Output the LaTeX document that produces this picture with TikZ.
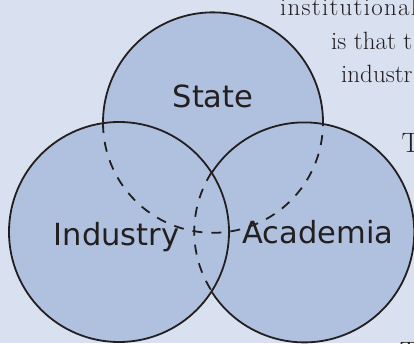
\documentclass[tikz,border=0pt]{standalone}
\usepackage{fontspec}
\newfontfamily\labelfont{DejaVu Sans}
\newfontfamily\widebody[LetterSpace=5]{Latin Modern Roman}
\definecolor{bg}{HTML}{D9E0EF}
\definecolor{disc}{HTML}{AFC1DE}
\definecolor{ink}{HTML}{231F20}
\begin{document}
\begin{tikzpicture}[x=1pt,y=1pt,
  disk/.style={circle,fill=disc,draw=none,inner sep=0pt,outer sep=0pt,minimum size=220pt},
  solidline/.style={draw=ink,line width=1.8pt},
  hiddenline/.style={draw=ink,line width=1.8pt,dash pattern=on 10pt off 9pt},
  lbl/.style={font=\labelfont\fontsize{30.5}{30.5}\selectfont,text=ink,inner sep=0pt,anchor=base},
  body/.style={font=\fontsize{25}{25}\selectfont,text=ink,inner sep=0pt,anchor=base west}]
\useasboundingbox (0,0) rectangle (414,343);
\fill[bg] (0,0) rectangle (414,343);
\clip (0,0) rectangle (414,343);
% running text of the page
\node[body,font=\widebody\fontsize{25}{25}\selectfont] (t1) at (280,327) {institutional};
\node[body] (t2) at (331,293) {is that t};
\node[body] (t3) at (341,260) {industr};
\node[body,font=\fontsize{28}{28}\selectfont] (t4) at (401.5,190) {T};
\node[body,font=\fontsize{28}{28}\selectfont] (t5) at (399.5,-18.5) {T};
% discs
\node[disk] (S) at (213,220) {};
\node[disk] (I) at (119,111) {};
\node[disk] (A) at (304,111) {};
% labels
\node[lbl] (ls) at (213,235) {State};
\node[lbl] (li) at (116.5,98) {Industry};
\node[lbl] (la) at (318,100) {Academia};
% outlines
\draw[solidline] (I) circle[radius=110pt];
\draw[solidline] (A.-147.24) arc[start angle=-147.24,end angle=147.24,radius=110pt];
\draw[hiddenline] (A.147.24) arc[start angle=147.24,end angle=212.76,radius=110pt];
\draw[solidline] (S.-0.34) arc[start angle=-0.34,end angle=180.1,radius=110pt];
\draw[hiddenline] (S.180.1) arc[start angle=180.1,end angle=359.66,radius=110pt];
\end{tikzpicture}
\end{document}
